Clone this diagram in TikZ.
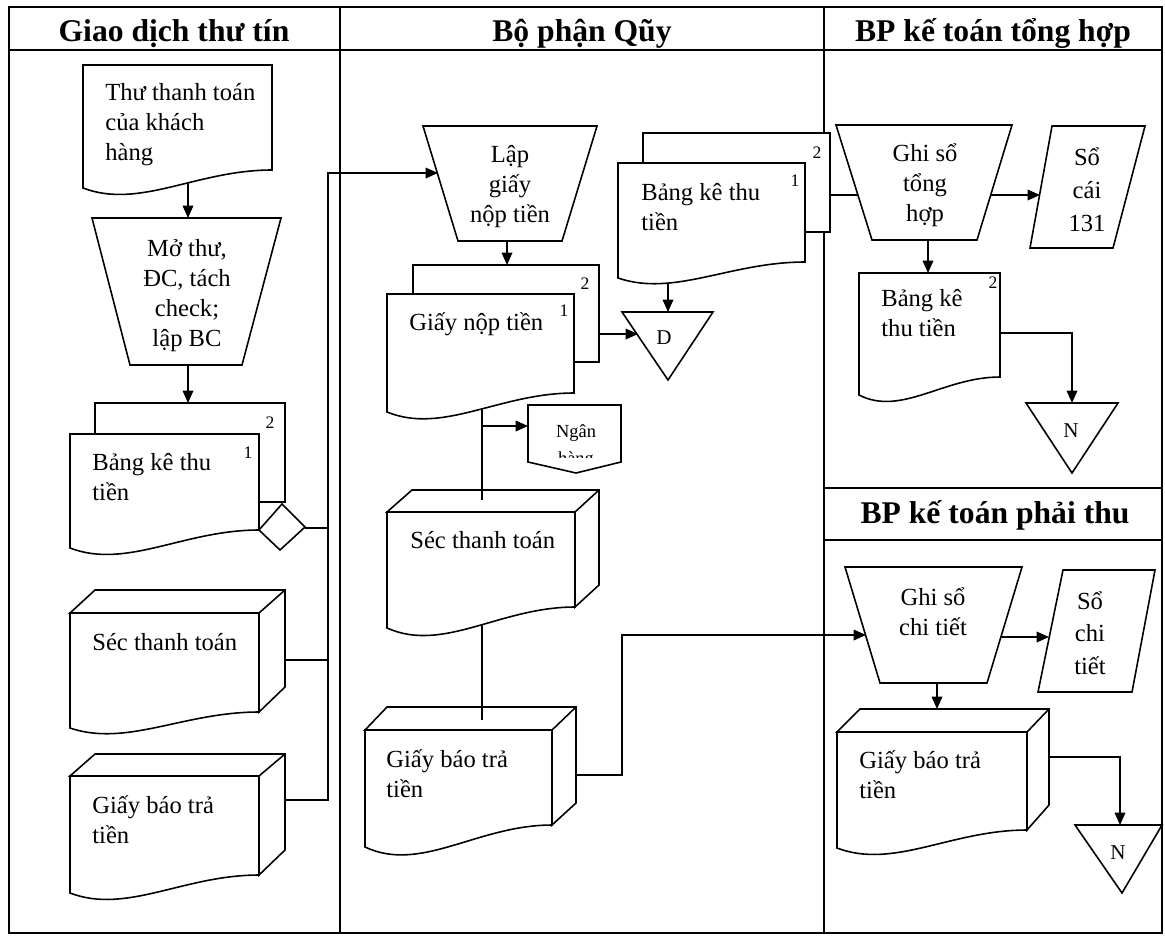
\documentclass[tikz,border=0pt]{standalone}
\usepackage{fontspec}
\setmainfont{Liberation Serif}
\usetikzlibrary{arrows.meta,calc}

% document with a wavy lower edge: left, top, right, right-bottom, left-bottom
\newcommand{\wavydoc}[5]{%
  \pgfmathsetmacro{\wW}{#3-#1}\pgfmathsetmacro{\wD}{#5-#4}%
  \path[shp] (#1,#2) -- (#3,#2) -- (#3,#4)
    .. controls ({#1+0.6*\wW},#4) and ({#1+0.3*\wW},{#5+1.2*\wD}) .. (#1,#5) -- cycle;}
% two stacked copies: back sheet (left, top, right, bottom), front sheet (left, top, right, right-bottom, left-bottom)
\newcommand{\multidoc}[9]{%
  \draw[shp] (#1,#6) -- (#1,#2) -- (#3,#2) -- (#3,#4) -- (#7,#4);
  \wavydoc{#5}{#6}{#7}{#8}{#9}}
% document drawn as a block with a top and a side face
\newcommand{\blockdoc}[9]{%
  \path[shp] (#5,#6) -- (#1,#2) -- (#3,#2) -- (#3,#4) -- (#7,#8) -- (#7,#6) -- cycle;
  \draw[shp] (#7,#6) -- (#3,#2);
  \wavydoc{#5}{#6}{#7}{#8}{#9}}

\begin{document}
\begin{tikzpicture}[x=0.02cm,y=-0.02cm,
  shp/.style={draw, line width=0.9pt, fill=white, line join=miter},
  conn/.style={draw, line width=0.9pt},
  arr/.style={conn, -{Triangle[length=7pt,width=6pt]}},
  frame/.style={draw, line width=1.3pt},
  hdr/.style={font=\fontsize{18}{20}\selectfont\bfseries, anchor=base, inner sep=0pt},
  % multi-line texts are placed by the baseline of their last line
  txt/.style={font=\fontsize{14}{17}\selectfont, align=left, anchor=base west, inner sep=0pt},
  ctxt/.style={font=\fontsize{14}{17}\selectfont, align=center, anchor=base, inner sep=0pt},
  wtxt/.style={font=\fontsize{14}{18.5}\selectfont, align=center, anchor=base, inner sep=0pt},
  num/.style={font=\fontsize{10}{12}\selectfont, inner sep=0pt, anchor=base},
  sym/.style={font=\fontsize{12}{14}\selectfont, inner sep=0pt, anchor=base},
]
\useasboundingbox (0,0) rectangle (1165,937);

% ---- swimlane grid ----
\draw[frame] (9,7) rectangle (1162,933);
\draw[frame] (9,50) -- (1162,50);
\draw[frame] (340,7) -- (340,933);
\draw[frame] (824,7) -- (824,933);
\draw[frame] (824,488) -- (1162,488);
\draw[frame] (824,540) -- (1162,540);

\node[hdr] (h1) at (174,41) {Giao dịch thư tín};
\node[hdr] (h2) at (582,41) {Bộ phận Qũy};
\node[hdr] (h3) at (993,41) {BP kế toán tổng hợp};
\node[hdr] (h4) at (995,523) {BP kế toán phải thu};

% ---- Giao dịch thư tín ----
\wavydoc{83}{65}{272}{170}{188}
\node[txt] (thu) at (105,160) {Thư thanh toán\\của khách\\hàng};

\path[shp] (92,218) -- (281,218) -- (242,365) -- (130,365) -- cycle;
\node[ctxt] (mo) at (187,346) {Mở thư,\\ĐC, tách\\check;\\lập BC};

\multidoc{95}{403}{285}{502}{70}{434}{259}{530}{548}
\node[num] (bk1n2) at (270,428) {2};
\node[num] (bk1n1) at (248,458) {1};
\node[txt] (bk1) at (92,500) {Bảng kê thu\\tiền};
\path[shp] (259,530) -- (282,504) -- (305,527) -- (280,550) -- cycle;

\blockdoc{95}{590}{285}{687}{70}{613}{259}{712}{728}
\node[txt] (sec1) at (92,650) {Séc thanh toán};

\blockdoc{95}{754}{285}{850}{70}{776}{259}{875}{893}
\node[txt] (gb1) at (92,843) {Giấy báo trả\\tiền};

% ---- Bộ phận Qũy ----
\path[shp] (423,126) -- (597,126) -- (562,241) -- (458,241) -- cycle;
\node[ctxt] (lap) at (510,222) {Lập\\giấy\\nộp tiền};

\multidoc{413}{265}{599}{362}{387}{294}{574}{393}{412}
\node[num] (gnn2) at (585,289) {2};
\node[num] (gnn1) at (564,316) {1};
\node[txt] (gn) at (409,330) {Giấy nộp tiền};

\multidoc{643}{133}{830}{232}{618}{163}{805}{262}{278}
\node[num] (bk2n2) at (817,158) {2};
\node[num] (bk2n1) at (795,186) {1};
\node[txt] (bk2) at (641,230) {Bảng kê thu\\tiền};

\path[shp] (622,312) -- (713,312) -- (668,380) -- cycle;
\node[sym] (d) at (664,344) {D};

\path[shp] (528,405) -- (621,405) -- (621,462) -- (576,473) -- (528,462) -- cycle;
\node[font=\fontsize{10.5}{13}\selectfont, inner sep=0pt, anchor=base] (ngan) at (576,437) {Ngân};
\begin{scope}
  \clip (530,449) rectangle (619,457);
  \node[font=\fontsize{10.5}{13}\selectfont, inner sep=0pt, anchor=base] (hang) at (576,464) {hàng};
\end{scope}

\blockdoc{412}{490}{599}{585}{387}{512}{575}{607}{628}
\node[txt] (sec2) at (410,548) {Séc thanh toán};

\blockdoc{387}{707}{576}{803}{365}{730}{552}{825}{847}
\node[txt] (gb2) at (386,797) {Giấy báo trả\\tiền};

% ---- BP kế toán tổng hợp ----
\path[shp] (836,125) -- (1012,125) -- (977,240) -- (872,240) -- cycle;
\node[ctxt] (tong) at (925,221) {Ghi sổ\\tổng\\hợp};

\path[shp] (1052,126) -- (1145,126) -- (1113,248) -- (1030,248) -- cycle;
\node[wtxt] (cai) at (1087,231) {Sổ\\cái\\131};

\wavydoc{859}{273}{1000}{377}{395}
\node[num] (bk3n2) at (993,288) {2};
\node[txt] (bk3) at (881,336) {Bảng kê\\thu tiền};

\path[shp] (1026,403) -- (1118,403) -- (1072,473) -- cycle;
\node[sym] (n1) at (1071,437) {N};

% ---- BP kế toán phải thu ----
\path[shp] (845,567) -- (1022,567) -- (987,683) -- (880,683) -- cycle;
\node[ctxt] (cti) at (933,635) {Ghi sổ\\chi tiết};

\path[shp] (1063,570) -- (1155,570) -- (1132,692) -- (1038,692) -- cycle;
\node[wtxt] (sct) at (1090,674) {Sổ\\chi\\tiết};

\blockdoc{860}{709}{1049}{805}{837}{732}{1027}{830}{848}
\node[txt] (gb3) at (859,798) {Giấy báo trả\\tiền};

\path[shp] (1075,825) -- (1162,825) -- (1122,893) -- cycle;
\node[sym] (n2) at (1118,859) {N};

% ---- connection points ----
\coordinate (thu-b) at (188,183);
\coordinate (mo-t) at (188,218);
\coordinate (mo-b) at (188,365);
\coordinate (bk1-t) at (188,403);
\coordinate (dia-r) at (305,528);
\coordinate (sec1-r) at (285,660);
\coordinate (gb1-r) at (285,800);
\coordinate (bus) at (328,173);
\coordinate (lap-l) at (438,173);
\coordinate (lap-b) at (507,241);
\coordinate (gn-t) at (507,265);
\coordinate (gn-r) at (599,334);
\coordinate (d-l) at (638,334);
\coordinate (bk2-b) at (668,283);
\coordinate (d-t) at (668,312);
\coordinate (gn-b) at (482,408);
\coordinate (ngan-l) at (528,426);
\coordinate (sec2-t) at (482,500);
\coordinate (sec2-b) at (482,624);
\coordinate (gb2-t) at (482,720);
\coordinate (gb2-r) at (576,775);
\coordinate (jog) at (622,635);
\coordinate (cti-l) at (866,635);
\coordinate (bk2-r) at (830,195);
\coordinate (tong-l) at (858,195);
\coordinate (tong-r) at (991,195);
\coordinate (cai-l) at (1040,195);
\coordinate (tong-b) at (928,240);
\coordinate (bk3-t) at (928,273);
\coordinate (bk3-r) at (1000,333);
\coordinate (n1-t) at (1072,403);
\coordinate (cti-r) at (1001,637);
\coordinate (sct-l) at (1049,637);
\coordinate (cti-b) at (937,683);
\coordinate (gb3-t) at (937,709);
\coordinate (gb3-r) at (1049,757);
\coordinate (n2-t) at (1120,825);

% ---- connectors ----
\draw[arr] (thu-b) -- (mo-t);
\draw[arr] (mo-b) -- (bk1-t);
\draw[arr] (gb1-r) -| (bus) -- (lap-l);
\draw[conn] (sec1-r) -- (sec1-r -| bus);
\draw[conn] (dia-r) -- (dia-r -| bus);
\draw[arr] (lap-b) -- (gn-t);
\draw[arr] (gn-r) -- (d-l);
\draw[arr] (bk2-b) -- (d-t);
\draw[conn] (gn-b) -- (sec2-t);
\draw[arr] (gn-b |- ngan-l) -- (ngan-l);
\draw[conn] (sec2-b) -- (gb2-t);
\draw[arr] (gb2-r) -| (jog) -- (cti-l);
\draw[conn] (bk2-r) -- (tong-l);
\draw[arr] (tong-r) -- (cai-l);
\draw[arr] (tong-b) -- (bk3-t);
\draw[arr] (bk3-r) -| (n1-t);
\draw[arr] (cti-r) -- (sct-l);
\draw[arr] (cti-b) -- (gb3-t);
\draw[arr] (gb3-r) -| (n2-t);
\end{tikzpicture}
\end{document}
